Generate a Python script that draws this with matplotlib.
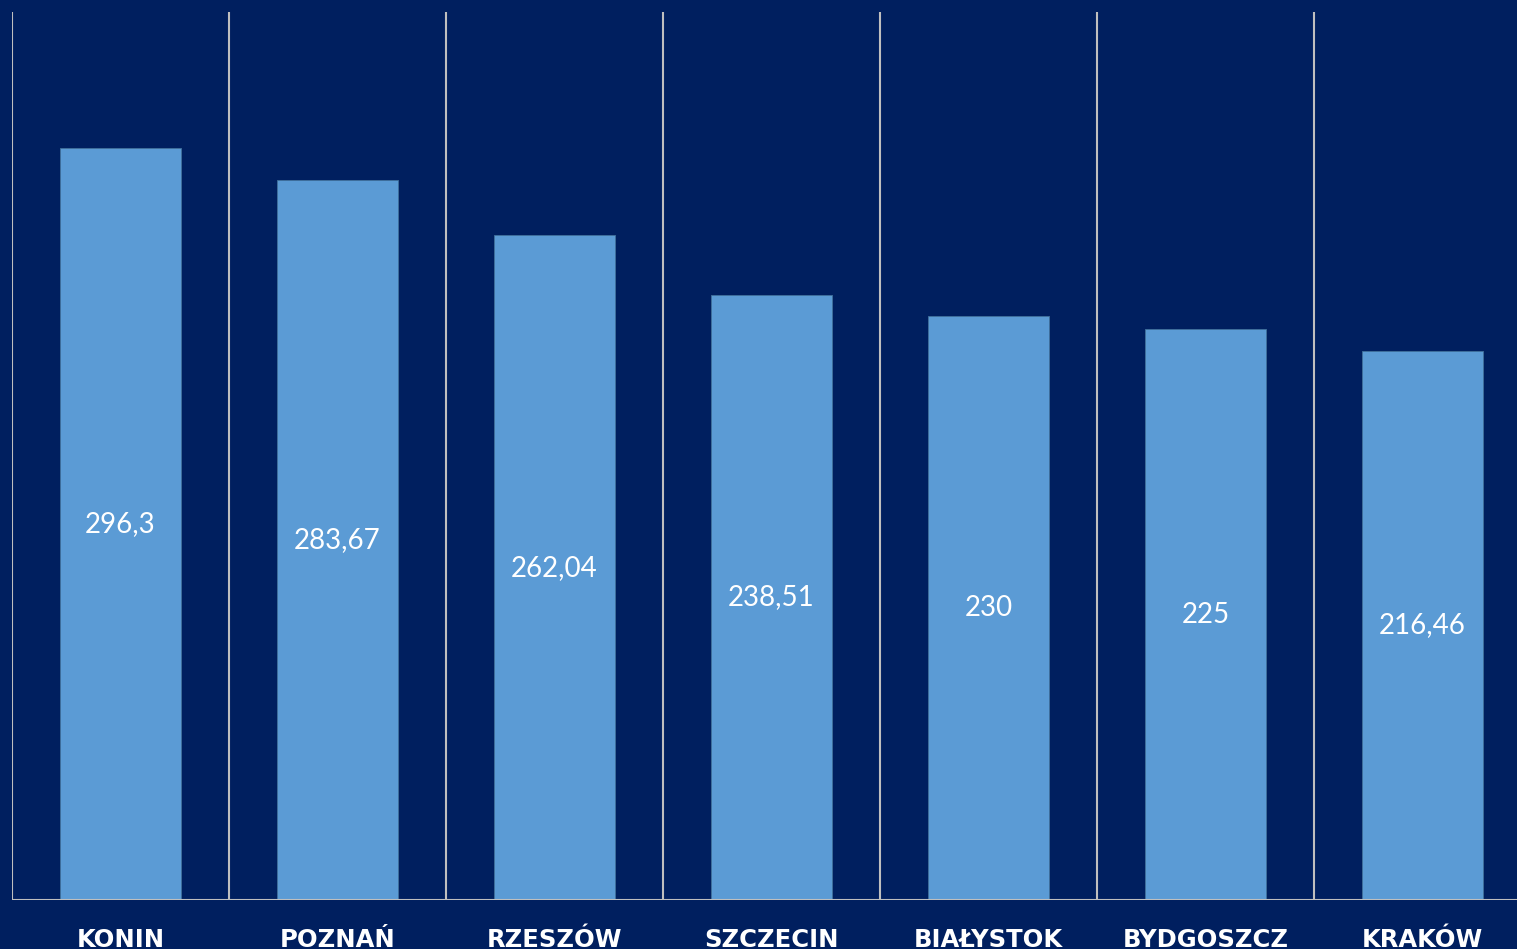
import matplotlib
matplotlib.use("Agg")
import matplotlib.pyplot as plt

categories = ["KONIN", "POZNAŃ", "RZESZÓW", "SZCZECIN", "BIAŁYSTOK", "BYDGOSZCZ", "KRAKÓW"]
values = [296.3, 283.67, 262.04, 238.51, 230, 225, 216.46]
value_labels = ["296,3", "283,67", "262,04", "238,51", "230", "225", "216,46"]

BG = "#001F5F"
BAR = "#5B9BD5"
GRID = "#BFBFBF"

fig = plt.figure(figsize=(15.17, 9.49), dpi=100, facecolor=BG)
W, H = 1517, 949
ax = fig.add_axes([12 / W, 49 / H, 1519 / W, 888 / H])
ax.set_facecolor(BG)

x = list(range(len(categories)))
ax.bar(x, values, width=0.558, color=BAR, edgecolor="#41719C", linewidth=0.6, zorder=2)
ax.set_xlim(-0.5, len(categories) - 0.5)
ax.set_ylim(0, 350)

for k in range(len(categories) + 1):
    ax.axvline(k - 0.5, color=GRID, linewidth=1.5, zorder=1)
ax.axhline(0, color=GRID, linewidth=1.5, zorder=3)

for s in ax.spines.values():
    s.set_visible(False)
ax.set_xticks([])
ax.set_yticks([])

fam = ["Lato", "DejaVu Sans"]
for xi, v, lab in zip(x, values, value_labels):
    ax.text(xi, v / 2, lab, ha="center", va="center", color="white",
            fontsize=20, family=fam, zorder=4)

for xi, c in zip(x, categories):
    ax.annotate(c, xy=(xi, 0), xycoords=("data", "axes fraction"),
                xytext=(0, -33.8), textcoords="offset points",
                ha="center", va="baseline", color="white", fontsize=17.5,
                fontweight="bold", family=["DejaVu Sans"])

fig.savefig("out.png", dpi=100, facecolor=BG)
